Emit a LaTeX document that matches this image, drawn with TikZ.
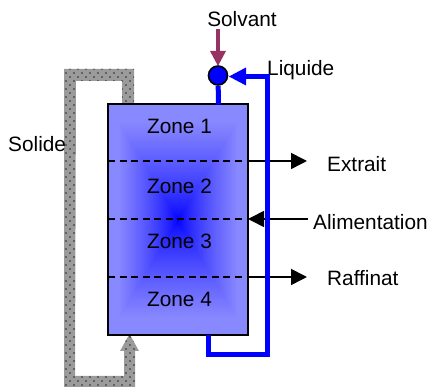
\documentclass[tikz,border=0pt]{standalone}
\usepackage{fontspec}
\setmainfont{Liberation Sans}
\usetikzlibrary{patterns,arrows.meta}
\pgfdeclarefunctionalshading{zonegrad}{\pgfpoint{0bp}{0bp}}{\pgfpoint{100bp}{100bp}}{}{
50 sub abs 25 div exch 50 sub abs 25 div
2 copy lt {exch} if pop
0.85 div dup 1 gt {pop 1} if 0.75 exp
0.533 mul dup 1
}
\pgfdeclarepatternformonly{grains}{\pgfqpoint{-1pt}{-1pt}}{\pgfqpoint{9pt}{9pt}}{\pgfqpoint{8pt}{8pt}}{
  \pgfpathcircle{\pgfqpoint{2pt}{2pt}}{0.95pt}
  \pgfpathcircle{\pgfqpoint{6pt}{6pt}}{0.95pt}
  \pgfusepath{fill}
}
\definecolor{solvc}{RGB}{150,50,100}
\definecolor{solgray}{RGB}{155,155,155}
\definecolor{dotc}{RGB}{40,40,40}
\tikzset{
  lbl/.style={font=\fontsize{20.8}{24}\selectfont,text=black,inner sep=0pt,anchor=base},
  lblw/.style={lbl,anchor=base west},
  thick line/.style={line width=1.6pt,draw=black},
  flow/.style={thick line,-{Triangle[length=16pt,width=16pt]}},
  liquid/.style={line width=5pt,draw=blue,line join=miter},
  sep/.style={thick line,dash pattern=on 7pt off 4.5pt}
}
\begin{document}
\begin{tikzpicture}[x=1pt,y=-1pt]
\useasboundingbox (0,0) rectangle (432,387);
% solid recycle band
\def\band{(122,104) -- (122,81) -- (76,81) -- (75,376) -- (124,376) -- (124,351) -- (120,351) -- (129.5,334) -- (139,351) -- (135,351) -- (135,387) -- (64,387) -- (64,69) -- (134,69) -- (134,104) -- cycle}
\fill[solgray] \band;
\fill[pattern=grains,pattern color=dotc] \band;
% column
\node[inner sep=0pt,minimum width=139.5pt,minimum height=230.5pt,draw=none] (col) at (177.75,219.75) {};
\shade[shading=zonegrad] (col.north west) rectangle (col.south east);
\draw[thick line] (col.north west) rectangle (col.south east);
\foreach \y/\z in {134/Zone 1,194/Zone 2,249/Zone 3,307/Zone 4}{\node[lbl] at (179.5,\y) {\z};}
\foreach \y in {161,219,277}{\draw[sep] (108,\y) -- (244,\y);}
% labels
\node[lbl] (solvant) at (242,27) {Solvant};
\node[lblw] (extrait) at (327,172) {Extrait};
\node[lblw] (alim) at (313,230) {Alimentation};
\node[lblw] (raff) at (327,286) {Raffinat};
\node[lblw] (solide) at (8,152) {Solide};
\node[lblw] (liq) at (267,76) {Liquide};
% side streams
\coordinate (ea) at (247.5,161); \coordinate (eb) at (307,161);
\coordinate (ra) at (247.5,277); \coordinate (rb) at (307,277);
\coordinate (aa) at (308,219); \coordinate (ab) at (248,219);
\draw[flow] (ea) -- (eb);
\draw[flow] (ra) -- (rb);
\draw[flow] (aa) -- (ab);
% liquid loop
\node[circle,draw=black,fill=blue,line width=1.6pt,minimum size=19pt,inner sep=0pt] (mix) at (218,75.5) {};
\draw[liquid] (218.5,104.5) -- (mix);
\draw[liquid] (208.5,335) -- (208.5,354.5) -- (267.5,354.5) -- (267.5,77) -- (240,77);
\fill[blue] (229,76.5) -- (246,67.5) -- (246,85.5) -- cycle;
% solvent
\draw[line width=4.5pt,draw=solvc] (218,29) -- (218,52);
\fill[solvc] (210,51) -- (226,51) -- (218,66) -- cycle;
\end{tikzpicture}
\end{document}
